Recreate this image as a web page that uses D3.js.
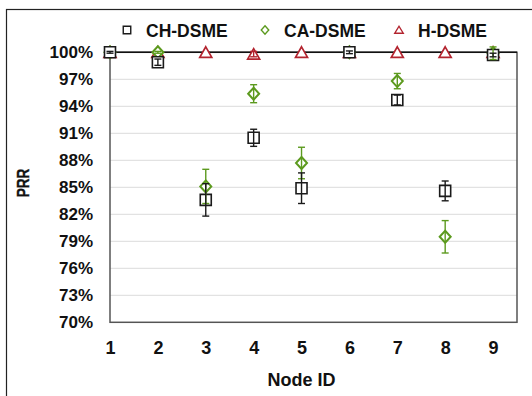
<!DOCTYPE html>
<html>
<head>
<meta charset="utf-8">
<script src="https://cdn.jsdelivr.net/npm/d3@7"></script>
<style>
  body { margin: 0; background: #fff; }
  text { font-family: "Liberation Sans", Arial, Helvetica, sans-serif; font-weight: bold; }
</style>
</head>
<body>
<script>
// data
var nodes = [1, 2, 3, 4, 5, 6, 7, 8, 9]
var yTicks = [70, 73, 76, 79, 82, 85, 88, 91, 94, 97, 100]

var chValues = [100, 98.9, 83.6, 90.5, 84.9, 100, 94.7, 84.6, 99.7]
var chErrors = [0.1, 0.35, 1.8, 0.95, 1.7, 0.15, 0.55, 1.1, 0.2]
var caValues = [100, 100, 85.1, 95.4, 87.7, 100, 96.8, 79.5, 99.9]
var caErrors = [0, 0.1, 1.9, 1.0, 1.75, 0, 0.85, 1.8, 0.7]
var hValues = [100, 100, 100, 99.8, 100, 100, 100, 100, 100]
var hErrors = [0, 0, 0, 0.3, 0, 0, 0, 0, 0]

var series = [
  {name: "H-DSME", values: hValues, errors: hErrors, color: "#b3242f", shape: "triangle", sw: 1.7},
  {name: "CA-DSME", values: caValues, errors: caErrors, color: "#5c9a1e", shape: "diamond", sw: 2},
  {name: "CH-DSME", values: chValues, errors: chErrors, color: "#1a1a1a", shape: "square", sw: 1.6}
]
var legendOrder = ["CH-DSME", "CA-DSME", "H-DSME"]

var width = 532, height = 396
var svg = d3.select("body").append("svg").attr("width", width).attr("height", height)

// outer frame (runs off the right and bottom edge)
svg.append("rect").attr("x", 6.5).attr("y", 9.5).attr("width", 600).attr("height", 500)
  .attr("fill", "none").attr("stroke", "#222").attr("stroke-width", 1.2)

var x = d3.scaleLinear().domain([1, 9.5]).range([110, 517])
var y = d3.scaleLinear().domain([70, 100]).range([322.3, 52.3])

// grid
svg.append("g").selectAll("line").data(yTicks.filter(d => d > 70 && d < 100)).enter()
  .append("line")
  .attr("x1", x(1)).attr("x2", x(9.5))
  .attr("y1", d => y(d)).attr("y2", d => y(d))
  .attr("stroke", "#e2e2e2").attr("stroke-width", 1.2)

// plot frame
svg.append("rect").attr("x", x(1)).attr("y", y(100)).attr("width", x(9.5) - x(1)).attr("height", y(70) - y(100))
  .attr("fill", "none").attr("stroke", "#555").attr("stroke-width", 1.5)
svg.append("line").attr("x1", x(1)).attr("x2", x(9.5)).attr("y1", y(100)).attr("y2", y(100))
  .attr("stroke", "#111").attr("stroke-width", 1.5)

// axes
var yAxis = svg.append("g").attr("transform", "translate(" + x(1) + ",0)")
  .call(d3.axisLeft(y).tickValues(yTicks).tickSize(0).tickPadding(17).tickFormat(d => d + "%"))
yAxis.select(".domain").remove()
yAxis.selectAll("text").attr("font-size", 17).attr("fill", "#111").attr("font-family", null)

var xAxis = svg.append("g").attr("transform", "translate(0," + y(70) + ")")
  .call(d3.axisBottom(x).tickValues(nodes).tickSize(0).tickPadding(19).tickFormat(d3.format("d")))
xAxis.select(".domain").remove()
xAxis.selectAll("text").attr("font-size", 18).attr("fill", "#111").attr("font-family", null)

svg.append("text").attr("x", x(5)).attr("y", 386).attr("text-anchor", "middle")
  .attr("font-size", 18).attr("fill", "#111").text("Node ID")
svg.append("text").attr("transform", "translate(29,183) rotate(-90) scale(0.8,1)")
  .attr("text-anchor", "middle").attr("font-size", 17).attr("fill", "#111")
  .attr("stroke", "#111").attr("stroke-width", 0.4).text("PRR")

function shapePath(shape, s) {
  var h = s / 2
  if (shape == "square") return "M" + (-h) + "," + (-h) + "H" + h + "V" + h + "H" + (-h) + "Z"
  if (shape == "diamond") return "M0," + (-h - 0.5) + "L" + h + ",0L0," + (h + 0.5) + "L" + (-h) + ",0Z"
  return "M0," + (-h) + "L" + (h + 0.5) + "," + (h - 0.5) + "L" + (-h - 0.5) + "," + (h - 0.5) + "Z"
}

// markers first, then error bars on top
series.forEach(function(s) {
  svg.append("g").selectAll("path").data(nodes).enter()
    .append("path")
    .attr("transform", (d, i) => "translate(" + x(d) + "," + y(s.values[i]) + ")")
    .attr("d", shapePath(s.shape, 11))
    .attr("fill", "#fff").attr("stroke", s.color).attr("stroke-width", s.sw)
})

series.forEach(function(s) {
  var g = svg.append("g").attr("stroke", s.color).attr("stroke-width", 1.4)
  nodes.forEach(function(d, i) {
    var e = s.errors[i]
    if (!e) return
    var top = y(s.values[i] + e), bot = y(s.values[i] - e)
    g.append("line").attr("x1", x(d)).attr("x2", x(d)).attr("y1", top).attr("y2", bot)
    g.append("line").attr("x1", x(d) - 3.5).attr("x2", x(d) + 3.5).attr("y1", top).attr("y2", top)
    g.append("line").attr("x1", x(d) - 3.5).attr("x2", x(d) + 3.5).attr("y1", bot).attr("y2", bot)
  })
})

// legend
var legendX = [127, 265, 399]
legendOrder.forEach(function(name, k) {
  var s = series.find(t => t.name == name)
  var g = svg.append("g").attr("transform", "translate(" + legendX[k] + ",30)")
  g.append("path").attr("d", shapePath(s.shape, 7.5))
    .attr("fill", "#fff").attr("stroke", s.color).attr("stroke-width", 1.4)
  g.append("text").attr("x", 19).attr("y", 6.5).attr("font-size", 17.5).attr("fill", "#111").text(name)
})
</script>
</body>
</html>
